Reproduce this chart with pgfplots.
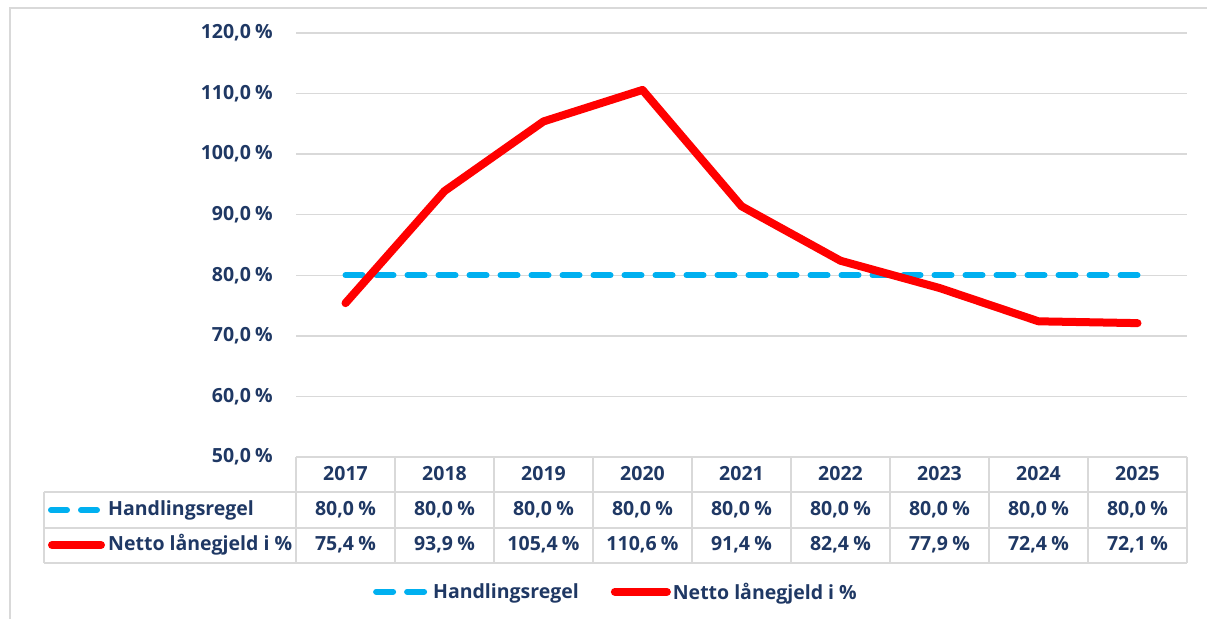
\documentclass[border=0pt]{standalone}
\usepackage{pgfplots}
\pgfplotsset{compat=1.18}
\usepackage{pgfplotstable}
\usepackage{fontspec}
\setmainfont{Open Sans}
\definecolor{navy}{HTML}{1F3864}
\definecolor{lblue}{HTML}{00B0F0}
\definecolor{gridc}{HTML}{D9D9D9}
\newcommand\cf{\fontsize{19.5bp}{23bp}\selectfont\bfseries}
\pgfkeys{/pgf/number format/assume math mode=true}

\pgfplotstableread{
x year hr nl
0 2017 80.0 75.4
1 2018 80.0 93.9
2 2019 80.0 105.4
3 2020 80.0 110.6
4 2021 80.0 91.4
5 2022 80.0 82.4
6 2023 80.0 77.9
7 2024 80.0 72.4
8 2025 80.0 72.1
}\data

\begin{document}
\begin{tikzpicture}[x=1bp,y=1bp]
\path[use as bounding box] (0,0) rectangle (1207,619);
\draw[gridc, line width=2bp] (10,0) -- (10,611) -- (1207,611);
\begin{axis}[
  at={(296bp,162bp)}, anchor=south west,
  scale only axis, width=891bp, height=424bp,
  xmin=-0.5, xmax=8.5, ymin=50, ymax=120,
  ytick={50,60,...,120},
  xtick={0,...,8},
  xticklabels={2017,2018,2019,2020,2021,2022,2023,2024,2025},
  major tick length=0pt,
  axis line style={draw=none},
  ymajorgrids, grid style={gridc, line width=1.5bp},
  yticklabel={\pgfmathprintnumber[fixed,fixed zerofill,precision=1,use comma]{\tick}\hspace{0.22em}\%},
  yticklabel style={font=\cf, text=navy, anchor=east, inner sep=0pt, xshift=-23bp},
  xticklabel style={font=\cf, text=navy, anchor=center, inner sep=0pt, yshift=-17bp},
  clip=false,
  legend columns=2,
  legend style={at={(axis description cs:0.083,-0.318)}, anchor=west, draw=none,
    font=\cf, text=navy, fill=none,
    /tikz/every even column/.append style={column sep=30bp}},
  legend cell align=left,
  legend image code/.code={\draw[#1] (0bp,0bp) -- (52bp,0bp);},
]
\addplot[lblue, line width=6bp, dash pattern=on 17bp off 14bp, line cap=round] table[x=x,y=hr]{\data};
\addlegendentry{Handlingsregel}
\addplot[red, line width=8bp, line join=round, line cap=round] table[x=x,y=nl]{\data};
\addlegendentry{Netto lånegjeld i \%}
\end{axis}
% table grid
\begin{scope}[gridc, line width=1.5bp]
\draw (296,162) -- (1187,162);
\draw (44,127) -- (1187,127);
\draw (44,91) -- (1187,91);
\draw (44,56) -- (1187,56);
\draw (44,127) -- (44,56);
\foreach \k in {0,...,9} {\draw ({296+99*\k},162) -- ({296+99*\k},56);}
\end{scope}
\draw[lblue, line width=6bp, line cap=round, dash pattern=on 16bp off 14bp] (51,109) -- (97,109);
\draw[red, line width=8bp, line cap=round] (52,74) -- (101,74);
\node[font=\cf, text=navy, anchor=west, inner sep=0pt] at (108,109) {Handlingsregel};
\node[font=\cf, text=navy, anchor=west, inner sep=0pt] at (108,74) {Netto lånegjeld i \%};
\foreach \i/\a/\b in {0/80.0/75.4,1/80.0/93.9,2/80.0/105.4,3/80.0/110.6,4/80.0/91.4,5/80.0/82.4,6/80.0/77.9,7/80.0/72.4,8/80.0/72.1} {
  \node[font=\cf, text=navy, inner sep=0pt] at ({345.5+99*\i},109) {\pgfmathprintnumber[fixed,fixed zerofill,precision=1,use comma]{\a}\hspace{0.22em}\%};
  \node[font=\cf, text=navy, inner sep=0pt] at ({345.5+99*\i},74) {\pgfmathprintnumber[fixed,fixed zerofill,precision=1,use comma]{\b}\hspace{0.22em}\%};
}
\end{tikzpicture}
\end{document}
